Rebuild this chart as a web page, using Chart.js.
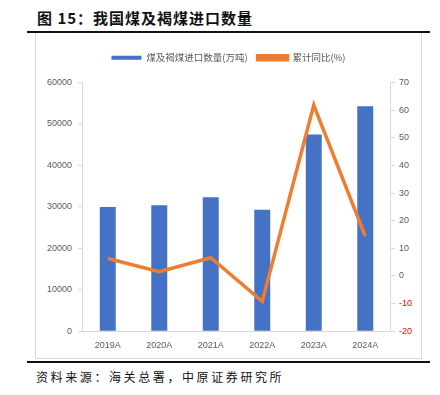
<!DOCTYPE html>
<html>
<head>
<meta charset="utf-8">
<script src="https://cdn.jsdelivr.net/npm/chart.js@4.4.1/dist/chart.umd.min.js"></script>
<style>
  body { margin: 0; background: #fff; width: 440px; height: 395px; position: relative; overflow: hidden; }
  #title { position: absolute; left: 37px; top: 7px; font: bold 15px "Noto Sans CJK SC", sans-serif; letter-spacing: 1px; color: #111; }
  #topRule { position: absolute; left: 27px; top: 31px; width: 403px; height: 2px; background: #111; }
  #box { position: absolute; left: 35px; top: 33px; width: 385px; height: 325px; border: 1px solid #d9d9d9; border-top: none; }
  #bottomRule { position: absolute; left: 27px; top: 361px; width: 403px; height: 2px; background: #111; }
  #source { position: absolute; left: 36px; top: 368px; font: 12px "Noto Sans CJK SC", sans-serif; letter-spacing: 2.6px; color: #111; }
</style>
</head>
<body>
<div id="title">图 15：我国煤及褐煤进口数量</div>
<div id="topRule"></div>
<div id="box"><canvas id="coalChart" width="385" height="325"></canvas></div>
<div id="bottomRule"></div>
<div id="source">资料来源：海关总署，中原证券研究所</div>
<script>
// Data
const years = ['2019A', '2020A', '2021A', '2022A', '2023A', '2024A'];
const importVolume = [29967, 30399, 32322, 29320, 47442, 54270];
const yoyGrowth = [6.3, 1.5, 6.6, -9.2, 61.8, 14.4];

const gray = '#595959';
const axisLine = '#d9d9d9';
const tickFont = { size: 9, family: 'Liberation Sans, sans-serif' };

// extra gap under the legend
const legendGap = {
    id: 'legendGap',
    beforeInit(chart) {
        const fit = chart.legend.fit;
        chart.legend.fit = function () {
            fit.bind(chart.legend)();
            this.height += 10;
        };
    }
};

const ctx = document.getElementById('coalChart').getContext('2d');
new Chart(ctx, {
    type: 'bar',
    data: {
        labels: years,
        datasets: [{
            type: 'line',
            label: '累计同比(%)',
            data: yoyGrowth,
            yAxisID: 'y1',
            borderColor: '#ED7D31',
            backgroundColor: '#ED7D31',
            borderWidth: 3.5,
            pointRadius: 0,
            tension: 0,
            order: 0
        }, {
            label: '煤及褐煤进口数量(万吨)',
            data: importVolume,
            yAxisID: 'y',
            backgroundColor: '#4472C4',
            categoryPercentage: 1,
            barPercentage: 0.31,
            order: 1
        }]
    },
    options: {
        responsive: false,
        animation: false,
        layout: { padding: { top: 10, right: 5, left: 5, bottom: 6 } },
        plugins: {
            legend: {
                reverse: true,
                labels: {
                    boxWidth: 30,
                    boxHeight: 4,
                    color: gray,
                    padding: 10,
                    font: { size: 9.5, family: '"Noto Sans CJK SC", sans-serif' }
                }
            },
            tooltip: { enabled: false }
        },
        scales: {
            x: {
                grid: { display: false },
                border: { color: axisLine },
                ticks: { color: gray, font: tickFont, padding: 1 }
            },
            y: {
                position: 'left',
                min: 0, max: 60000,
                ticks: { stepSize: 10000, color: gray, padding: 6, font: tickFont, callback: v => String(v) },
                grid: { drawOnChartArea: false, tickLength: 4, color: axisLine },
                border: { color: axisLine }
            },
            y1: {
                position: 'right',
                min: -20, max: 70,
                ticks: {
                    stepSize: 10,
                    padding: 4,
                    font: tickFont,
                    color: c => c.tick && c.tick.value < 0 ? '#ff0000' : gray
                },
                grid: { drawOnChartArea: false, tickLength: 4, color: axisLine },
                border: { color: axisLine }
            }
        }
    },
    plugins: [legendGap]
});
</script>
</body>
</html>
